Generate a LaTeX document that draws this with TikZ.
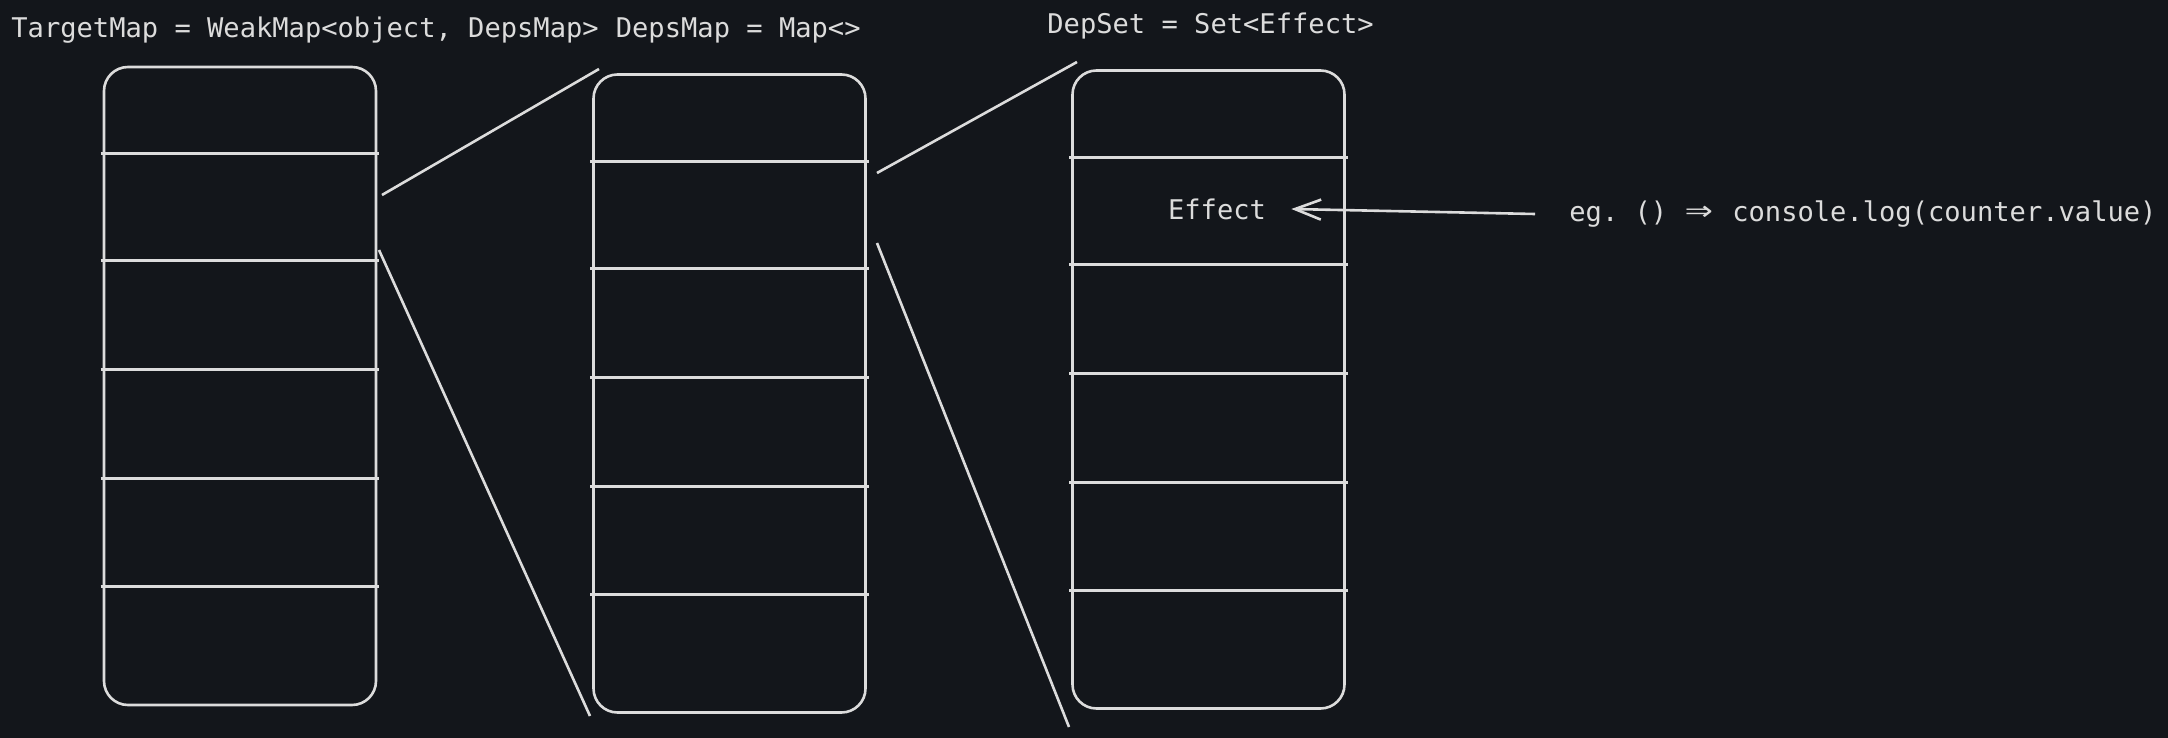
\documentclass[tikz,border=0pt]{standalone}
\usepackage{fontspec}
\setmonofont{DejaVu Sans Mono}
\usetikzlibrary{positioning,arrows.meta}
\definecolor{bg}{HTML}{13161B}
\definecolor{ink}{HTML}{DCDCDC}
\newcommand{\fatarrow}{\makebox[16.2pt]{\scalebox{1.7}[1.3]{⇒}}}
\tikzset{
  lbl/.style={text=ink,inner sep=0pt,font=\ttfamily\fontsize{13.55pt}{16pt}\selectfont},
  mapbox/.style={draw=ink,line width=1.3pt,rounded corners=12pt,
    minimum width=136pt,minimum height=319pt,inner sep=0pt},
  rowline/.style={draw=ink,line width=1.3pt},
}
\begin{document}
\begin{tikzpicture}[x=0.5pt,y=-0.5pt]
    \fill[bg] (0,0) rectangle (2168,738);
    \useasboundingbox (0,0) rectangle (2168,738);
    % type labels
    \node[lbl,anchor=west] (tmlabel) at (11,30) {TargetMap = WeakMap<object, DepsMap>};
    \node[lbl,right=8.15pt of tmlabel] (dmlabel) {DepsMap = Map<>};
    \node[lbl,anchor=west] (dslabel) at (1047,26) {DepSet = Set<Effect>};
    % the three maps
    \node[mapbox] (targetmap) at (240,386) {};
    \node[mapbox] (depsmap) at (729.5,393.5) {};
    \node[mapbox] (depset) at (1208.5,389.5) {};
    \foreach \m in {targetmap,depsmap,depset}
      \foreach \d in {44,97.5,152,206.5,260.5}
        \draw[rowline] ([shift={(-1pt,-\d pt)}]\m.north west) -- ([shift={(1pt,-\d pt)}]\m.north east);
    % zoom lines
    \coordinate (tm-hi) at (382,195);
    \coordinate (tm-lo) at (379,250);
    \coordinate (dm-hi) at (599,69);
    \coordinate (dm-lo) at (590,716);
    \coordinate (dm-hi2) at (877,173);
    \coordinate (dm-lo2) at (877,243);
    \coordinate (ds-hi) at (1077,62);
    \coordinate (ds-lo) at (1069,727);
    \draw[rowline] (tm-hi) -- (dm-hi);
    \draw[rowline] (tm-lo) -- (dm-lo);
    \draw[rowline] (dm-hi2) -- (ds-hi);
    \draw[rowline] (dm-lo2) -- (ds-lo);
    % effect
    \node[lbl] (effect) at (1217,209) {Effect};
    \node[lbl,anchor=west] (example) at (1569,214) {eg. () \fatarrow{} console.log(counter.value)};
    \draw[rowline,-{Straight Barb[length=13pt,width=10pt]}] ([xshift=-17pt]example.west) -- ([xshift=12.5pt]effect.east);
\end{tikzpicture}
\end{document}
